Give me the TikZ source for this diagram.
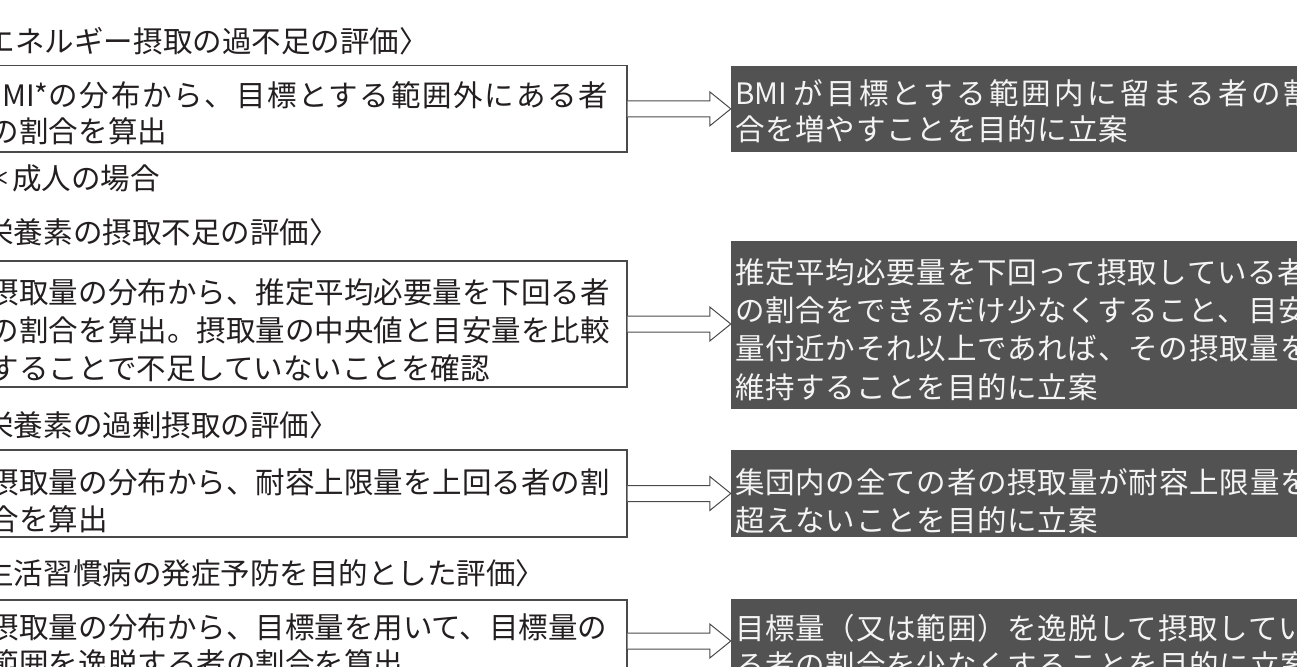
\documentclass[tikz,border=0pt]{standalone}
\usepackage{fontspec}
\newfontfamily\jp{Noto Sans CJK JP}
\newfontfamily\jpr{Noto Sans CJK JP}[LetterSpace=2.7]
\newfontfamily\jpw{Noto Sans CJK JP}[LetterSpace=11]
\newfontfamily\jpl{Noto Sans CJK JP}[LetterSpace=5.8]
\usetikzlibrary{calc}
\definecolor{ink}{HTML}{231F20}
\definecolor{bord}{HTML}{4A4A4A}
\definecolor{darkfill}{HTML}{525252}
\definecolor{lightink}{HTML}{F4F4F4}
\begin{document}
\begin{tikzpicture}[x=1pt,y=-1pt,
  jt/.style={inner sep=0pt, outer sep=0pt, text=ink, font=\jp\fontsize{29.5}{36}\selectfont, text height=26pt, text depth=3.5pt},
  jw/.style={jt, text=lightink, font=\jpr\fontsize{29.5}{36}\selectfont},
  lbox/.style={draw=bord, line width=1.4pt, fill=white, inner sep=0pt, minimum width=647pt},
  dbox/.style={fill=darkfill, draw=none, inner sep=0pt, minimum width=579pt},
  arr/.style={draw=bord, line width=1pt, fill=white, line join=miter}
]
\useasboundingbox (0,0) rectangle (1297,666);
\clip (0,0) rectangle (1297,666);
% boxes
\node[lbox, minimum height=86.3pt] (b1) at (303.5,108.85) {};
\node[dbox, minimum height=86.3pt] (d1) at (1020.5,108.85) {};
\node[lbox, minimum height=126pt] (b2) at (303.5,324) {};
\node[dbox, minimum height=168pt] (d2) at (1020.5,325) {};
\node[lbox, minimum height=87pt] (b3) at (303.5,493.5) {};
\node[dbox, minimum height=87pt] (d3) at (1020.5,493.5) {};
\node[lbox, minimum height=82pt] (b4) at (303.5,641) {};
\node[dbox, minimum height=91pt] (d4) at (1020.5,644.5) {};
% arrows
\foreach \b/\d in {b1/d1,b2/d2,b3/d3,b4/d4}{
  \path (\b.east -| \d.west) coordinate (t);
  \draw[arr] ([yshift=8pt]\b.east) -- ([xshift=-21pt,yshift=8pt]t) -- ([xshift=-21pt,yshift=17pt]t) -- (t)
     -- ([xshift=-21pt,yshift=-17pt]t) -- ([xshift=-21pt,yshift=-8pt]t) -- ([yshift=-8pt]\b.east);
}
% headers
\node[jt, anchor=west] (h1) at (-43.5,41) {〈エネルギー摂取の過不足の評価〉};
\node[jt, anchor=west] (h2) at (-45,232) {〈栄養素の摂取不足の評価〉};
\node[jt, anchor=west] (h3) at (-45,425) {〈栄養素の過剰摂取の評価〉};
\node[jt, anchor=west] (h4) at (-45,573) {〈生活習慣病の発症予防を目的とした評価〉};
\node[jt, anchor=west] (note) at (-17,178) {＊成人の場合};
% left texts
\node[jt, anchor=west] (l11) at (-17,95) {BMI*\jpl の分布から、目標とする範囲外にある者};
\node[jt, anchor=west] (l12) at (-10,131) {の割合を算出};
\node[jt, anchor=west] (l21) at (-10,292) {摂取量の分布から、推定平均必要量を下回る者};
\node[jt, anchor=west] (l22) at (l21.west |- 0,330) {の割合を算出。摂取量の中央値と目安量を比較};
\node[jt, anchor=west] (l23) at (l21.west |- 0,368) {することで不足していないことを確認};
\node[jt, anchor=west] (l31) at (-10,482) {摂取量の分布から、耐容上限量を上回る者の割};
\node[jt, anchor=west] (l32) at (l31.west |- 0,519) {合を算出};
\node[jt, anchor=west] (l41) at (-10,627) {摂取量の分布から、目標量を用いて、目標量の};
\node[jt, anchor=west] (l42) at (l41.west |- 0,663) {範囲を逸脱する者の割合を算出};
% right texts
\node[jw, anchor=west] (r11) at (735,93) {\jp BMI \jpw が目標とする範囲内に留まる者の割};
\node[jw, anchor=west] (r12) at (735,129) {合を増やすことを目的に立案};
\node[jw, anchor=west] (r21) at (735,272) {推定平均必要量を下回って摂取している者};
\node[jw, anchor=west] (r22) at (735,310) {の割合をできるだけ少なくすること、目安};
\node[jw, anchor=west] (r23) at (735,348) {量付近かそれ以上であれば、その摂取量を};
\node[jw, anchor=west] (r24) at (735,387) {維持することを目的に立案};
\node[jw, anchor=west] (r31) at (735,482) {集団内の全ての者の摂取量が耐容上限量を};
\node[jw, anchor=west] (r32) at (735,520) {超えないことを目的に立案};
\node[jw, anchor=west] (r41) at (735,628) {目標量（又は範囲）を逸脱して摂取してい};
\node[jw, anchor=west] (r42) at (735,665) {る者の割合を少なくすることを目的に立案};
\end{tikzpicture}
\end{document}
